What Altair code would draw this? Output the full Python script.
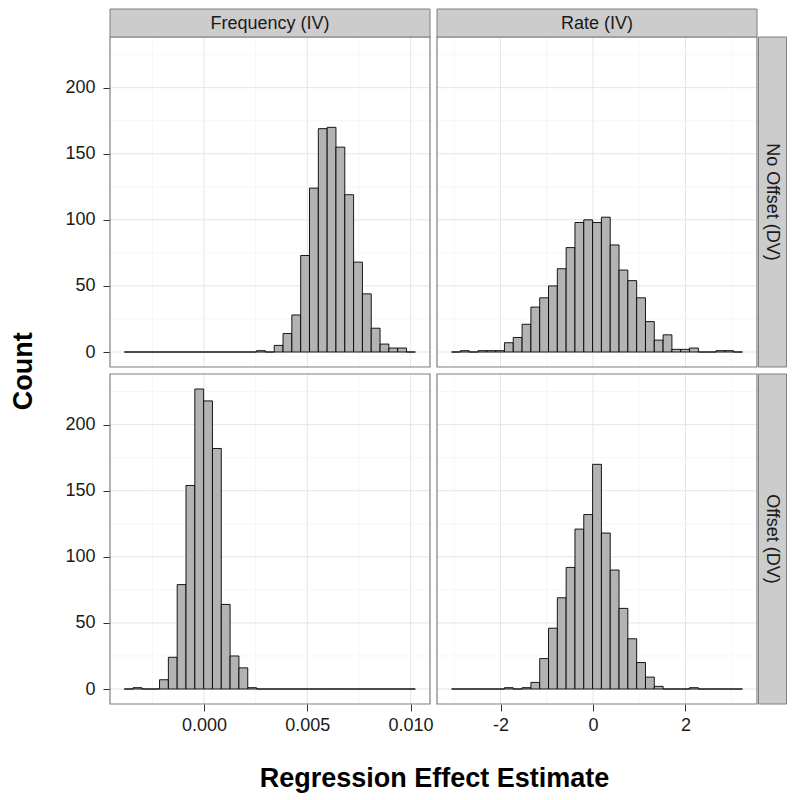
import altair as alt
import pandas as pd

col_labels = ["Frequency (IV)", "Rate (IV)"]
row_labels = ["No Offset (DV)", "Offset (DV)"]

# histogram bins (33 bins per column)
freq_bin_start = -0.00386
freq_bin_width = 0.000427
rate_bin_start = -3.059
rate_bin_width = 0.19064

freq_no_offset = [0, 0, 0, 0, 0, 0, 0, 0, 0, 0, 0, 0, 0, 0, 0, 1, 0, 5, 14, 28, 73, 124, 169, 170, 155, 119, 68, 44, 18, 6, 3, 3, 0]
freq_offset = [0, 1, 0, 0, 7, 24, 79, 154, 227, 218, 182, 64, 25, 16, 1, 0, 0, 0, 0, 0, 0, 0, 0, 0, 0, 0, 0, 0, 0, 0, 0, 0, 0]
rate_no_offset = [0, 1, 0, 1, 1, 1, 7, 11, 21, 34, 41, 50, 63, 79, 98, 100, 98, 102, 81, 62, 54, 41, 23, 9, 13, 2, 2, 3, 0, 0, 1, 1, 0]
rate_offset = [0, 0, 0, 0, 0, 0, 1, 0, 1, 5, 23, 46, 69, 92, 121, 132, 170, 118, 90, 61, 38, 20, 9, 2, 0, 0, 0, 1, 0, 0, 0, 0, 0]

freq_domain = [-0.00455, 0.01094]
rate_domain = [-3.374, 3.547]
count_domain = [-11.35, 238.35]

freq_major = [0.0, 0.005, 0.010]
freq_minor = [-0.0025, 0.0025, 0.0075]
rate_major = [-2, 0, 2]
rate_minor = [-3, -1, 1, 3]
count_major = [0, 50, 100, 150, 200]
count_minor = [25, 75, 125, 175, 225]

PW = 320
PH = 330
STRIP = 28
GAP = 1.5

FONT = "Liberation Sans"
TXT = "#1a1a1a"
BORDER = "#7f7f7f"
STRIP_FILL = "#cccccc"
BAR_FILL = "#b3b3b3"
GRID_MAJOR = "#e5e5e5"
GRID_MINOR = "#f4f4f4"
LABEL_SIZE = 18


def bins(counts, start, width):
    return pd.DataFrame({
        "x0": [start + i * width for i in range(len(counts))],
        "x1": [start + (i + 1) * width for i in range(len(counts))],
        "count": counts,
    })


def panel(counts, start, width, xdomain, xmajor, xminor, xfmt, xexpr,
          col_label, row_label, top, right, left):
    top_off = STRIP if top else 0
    H = PH + top_off
    W = PW + (GAP + STRIP if right else 0)
    xscale = alt.Scale(domain=xdomain, range=[0, PW], nice=False, zero=False)
    yscale = alt.Scale(domain=count_domain, range=[H, top_off], nice=False, zero=False)

    if top:
        xaxis = None
    else:
        kw = dict(values=xmajor, grid=False, domain=False, tickSize=7, tickWidth=1,
                  tickColor="#333333", labelFontSize=LABEL_SIZE, labelColor=TXT, labelFont=FONT,
                  labelPadding=5, title=None)
        if xfmt:
            kw["format"] = xfmt
        if xexpr:
            kw["labelExpr"] = xexpr
        xaxis = alt.Axis(**kw)
    if left:
        yaxis = alt.Axis(values=count_major, grid=False, domain=False, tickSize=7, tickWidth=1,
                         tickColor="#333333", labelFontSize=LABEL_SIZE, labelColor=TXT, labelFont=FONT,
                         labelPadding=8, title=None)
    else:
        yaxis = None

    layers = []
    for vals, col, sw in ((xminor, GRID_MINOR, 0.8), (xmajor, GRID_MAJOR, 1.0)):
        layers.append(
            alt.Chart(pd.DataFrame({"v": vals})).mark_rule(color=col, strokeWidth=sw).encode(
                x=alt.X("v:Q", scale=xscale, axis=xaxis),
                y=alt.value(top_off), y2=alt.value(H)))
    for vals, col, sw in ((count_minor, GRID_MINOR, 0.8), (count_major, GRID_MAJOR, 1.0)):
        layers.append(
            alt.Chart(pd.DataFrame({"v": vals})).mark_rule(color=col, strokeWidth=sw).encode(
                y=alt.Y("v:Q", scale=yscale, axis=yaxis),
                x=alt.value(0), x2=alt.value(PW)))

    layers.append(
        alt.Chart(bins(counts, start, width)).mark_rect(
            fill=BAR_FILL, stroke="black", strokeWidth=0.9).encode(
            x=alt.X("x0:Q", scale=xscale, axis=xaxis),
            x2="x1:Q",
            y=alt.Y("count:Q", scale=yscale, axis=yaxis),
            y2=alt.datum(0)))

    one = alt.Data(values=[{"c": col_label, "r": row_label}])
    layers.append(
        alt.Chart(one).mark_rect(fillOpacity=0, stroke=BORDER, strokeWidth=1.2).encode(
            x=alt.value(0), x2=alt.value(PW), y=alt.value(top_off), y2=alt.value(H)))
    if top:
        layers.append(
            alt.Chart(one).mark_rect(fill=STRIP_FILL, stroke=BORDER, strokeWidth=1).encode(
                x=alt.value(0), x2=alt.value(PW), y=alt.value(0), y2=alt.value(STRIP)))
        layers.append(
            alt.Chart(one).mark_text(fontSize=LABEL_SIZE, font=FONT, color=TXT, baseline="middle",
                                     align="center").encode(
                x=alt.value(PW / 2), y=alt.value(STRIP / 2 + 1), text="c:N"))
    if right:
        layers.append(
            alt.Chart(one).mark_rect(fill=STRIP_FILL, stroke=BORDER, strokeWidth=1).encode(
                x=alt.value(PW + GAP), x2=alt.value(PW + GAP + STRIP),
                y=alt.value(top_off), y2=alt.value(H)))
        layers.append(
            alt.Chart(one).mark_text(fontSize=LABEL_SIZE, font=FONT, color=TXT, baseline="middle",
                                     align="center", angle=90).encode(
                x=alt.value(PW + GAP + STRIP / 2 - 1), y=alt.value(top_off + PH / 2), text="r:N"))

    return alt.layer(*layers).properties(width=W, height=H)


p11 = panel(freq_no_offset, freq_bin_start, freq_bin_width, freq_domain, freq_major, freq_minor,
            ".3f", None, col_labels[0], row_labels[0], top=True, right=False, left=True)
p12 = panel(rate_no_offset, rate_bin_start, rate_bin_width, rate_domain, rate_major, rate_minor,
            None, "datum.value + ''", col_labels[1], row_labels[0], top=True, right=True, left=False)
p21 = panel(freq_offset, freq_bin_start, freq_bin_width, freq_domain, freq_major, freq_minor,
            ".3f", None, col_labels[0], row_labels[1], top=False, right=False, left=True)
p22 = panel(rate_offset, rate_bin_start, rate_bin_width, rate_domain, rate_major, rate_minor,
            None, "datum.value + ''", col_labels[1], row_labels[1], top=False, right=True, left=False)

row1 = alt.hconcat(p11, p12, spacing=7, bounds="flush")
row2 = alt.hconcat(p21, p22, spacing=7, bounds="flush")
grid = alt.vconcat(row1, row2, spacing=5)
with_y = alt.hconcat(grid, spacing=0).properties(
    title=alt.TitleParams("Count", orient="left", anchor="middle", fontSize=27,
                          fontWeight="bold", font=FONT, color="black", offset=27))
chart = alt.vconcat(with_y, spacing=0).properties(
    title=alt.TitleParams("Regression Effect Estimate", orient="bottom", anchor="middle",
                          fontSize=27, fontWeight="bold", font=FONT, color="black",
                          offset=32, dx=36),
    padding={"left": 1, "top": 0, "right": 0, "bottom": 5},
).configure_view(stroke=None).configure_concat(spacing=0)

chart.save("out.html", embed_options={"renderer": "svg", "actions": False})
